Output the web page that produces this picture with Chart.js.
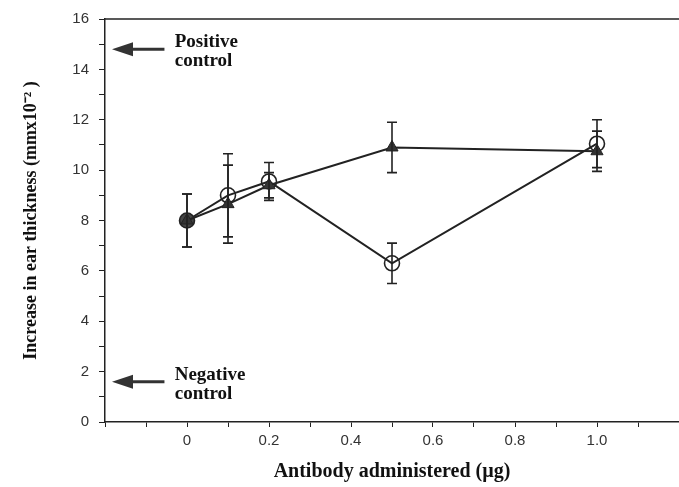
<!DOCTYPE html>
<html>
<head>
<meta charset="utf-8">
<script src="https://cdn.jsdelivr.net/npm/chart.js@4"></script>
<style>
  html, body { margin: 0; padding: 0; background: #fff; }
  #wrap { width: 679px; height: 487px; }
</style>
</head>
<body>
<div id="wrap"><canvas id="ear-chart"></canvas></div>
<script>
// values
const doses = [0, 0.1, 0.2, 0.5, 1.0];
const circleMeans = [8.0, 9.0, 9.55, 6.3, 11.05];
const circleErrors = [1.05, 1.65, 0.75, 0.8, 0.95];
const triangleMeans = [8.0, 8.65, 9.4, 10.9, 10.75];
const triangleErrors = [1.05, 1.55, 0.5, 1.0, 0.8];
const xTickLabels = ['0', '0.2', '0.4', '0.6', '0.8', '1.0'];
const yTickLabels = ['0', '2', '4', '6', '8', '10', '12', '14', '16'];
const controlLabels = [['Positive', 'control'], ['Negative', 'control']];
const controlLevels = [14.8, 1.6];

const ink = '#222';

function toPoints(means) {
    return doses.map((d, i) => ({ x: d, y: means[i] }));
}

const errorBars = {
    id: 'errorBars',
    afterDatasetsDraw(chart) {
        const ctx = chart.ctx;
        const yScale = chart.scales.y;
        ctx.save();
        ctx.strokeStyle = ink;
        ctx.lineWidth = 1.6;
        chart.data.datasets.forEach((ds, di) => {
            const meta = chart.getDatasetMeta(di);
            meta.data.forEach((pt, i) => {
                const err = ds.errors[i];
                const top = yScale.getPixelForValue(ds.data[i].y + err);
                const bot = yScale.getPixelForValue(ds.data[i].y - err);
                ctx.beginPath();
                ctx.moveTo(pt.x, top);
                ctx.lineTo(pt.x, bot);
                ctx.moveTo(pt.x - 5, top);
                ctx.lineTo(pt.x + 5, top);
                ctx.moveTo(pt.x - 5, bot);
                ctx.lineTo(pt.x + 5, bot);
                ctx.stroke();
            });
        });
        ctx.restore();
    }
};

const frameAndNotes = {
    id: 'frameAndNotes',
    afterDraw(chart) {
        const ctx = chart.ctx;
        const area = chart.chartArea;
        const xs = chart.scales.x;
        const ys = chart.scales.y;
        ctx.save();
        // top border of the box
        ctx.strokeStyle = ink;
        ctx.lineWidth = 1.5;
        ctx.beginPath();
        ctx.moveTo(area.left, area.top);
        ctx.lineTo(area.right, area.top);
        ctx.stroke();

        // control arrows + labels
        controlLevels.forEach((lvl, i) => {
            const y = ys.getPixelForValue(lvl);
            const tip = xs.getPixelForValue(-0.183);
            const tail = xs.getPixelForValue(-0.055);
            ctx.fillStyle = '#333';
            ctx.strokeStyle = '#333';
            ctx.lineWidth = 3;
            ctx.beginPath();
            ctx.moveTo(tip + 16, y);
            ctx.lineTo(tail, y);
            ctx.stroke();
            ctx.beginPath();
            ctx.moveTo(tip, y);
            ctx.lineTo(tip + 21, y - 7);
            ctx.lineTo(tip + 21, y + 7);
            ctx.closePath();
            ctx.fill();

            ctx.fillStyle = '#111';
            ctx.font = 'bold 19px "Liberation Serif", serif';
            ctx.textBaseline = 'alphabetic';
            ctx.textAlign = 'left';
            const tx = xs.getPixelForValue(-0.03);
            ctx.fillText(controlLabels[i][0], tx, y - 2);
            ctx.fillText(controlLabels[i][1], tx, y + 17);
        });
        ctx.restore();
    }
};

new Chart(document.getElementById('ear-chart'), {
    type: 'line',
    data: {
        datasets: [
            {
                label: 'triangles',
                data: toPoints(triangleMeans),
                errors: triangleErrors,
                borderColor: ink,
                borderWidth: 2,
                pointStyle: 'triangle',
                pointRadius: 7,
                pointBackgroundColor: '#333',
                pointBorderColor: ink,
                pointBorderWidth: 1,
                tension: 0
            },
            {
                label: 'circles',
                data: toPoints(circleMeans),
                errors: circleErrors,
                borderColor: ink,
                borderWidth: 2,
                pointStyle: 'circle',
                pointRadius: 7.5,
                pointBackgroundColor: c => c.dataIndex === 0 ? '#444' : 'rgba(0,0,0,0)',
                pointBorderColor: ink,
                pointBorderWidth: 1.6,
                tension: 0
            }
        ]
    },
    options: {
        responsive: true,
        maintainAspectRatio: false,
        animation: false,
        layout: { autoPadding: false, padding: { top: 17, right: 0, left: 0, bottom: 0 } },
        plugins: {
            legend: { display: false },
            tooltip: { enabled: false }
        },
        scales: {
            x: {
                type: 'linear',
                min: -0.2,
                max: 1.2,
                afterFit(scale) {
                    scale.height = 65;
                    scale.paddingLeft = 0;
                    scale.paddingRight = 0;
                },
                border: { color: ink, width: 1.5 },
                grid: { drawOnChartArea: false, tickLength: 5, color: ink, tickWidth: 1 },
                ticks: {
                    stepSize: 0.1,
                    color: '#333',
                    padding: 5,
                    maxRotation: 0,
                    autoSkip: false,
                    font: { family: '"Liberation Sans", Arial, sans-serif', size: 15 },
                    callback(value) {
                        const lbl = xTickLabels.find(l => Math.abs(parseFloat(l) - value) < 1e-6);
                        return lbl === undefined ? '' : lbl;
                    }
                },
                title: {
                    display: true,
                    text: 'Antibody administered (\u00b5g)',
                    color: '#111',
                    padding: { top: 0, bottom: 3 },
                    font: { family: '"Liberation Serif", serif', size: 20, weight: 'bold' }
                }
            },
            y: {
                min: 0,
                max: 16,
                afterFit(scale) { scale.width = 105; },
                border: { color: ink, width: 1.5 },
                grid: { drawOnChartArea: false, tickLength: 6, color: ink, tickWidth: 1 },
                ticks: {
                    stepSize: 1,
                    color: '#333',
                    padding: 10,
                    autoSkip: false,
                    font: { family: '"Liberation Sans", Arial, sans-serif', size: 15 },
                    callback(value) {
                        const lbl = yTickLabels.find(l => parseFloat(l) === value);
                        return lbl === undefined ? '' : lbl;
                    }
                },
                title: {
                    display: true,
                    text: 'Increase in ear thickness (mmx10\u207b\u00b2 )',
                    color: '#111',
                    padding: { top: 21, bottom: 0 },
                    font: { family: '"Liberation Serif", serif', size: 18, weight: 'bold' }
                }
            }
        }
    },
    plugins: [errorBars, frameAndNotes]
});
</script>
</body>
</html>
